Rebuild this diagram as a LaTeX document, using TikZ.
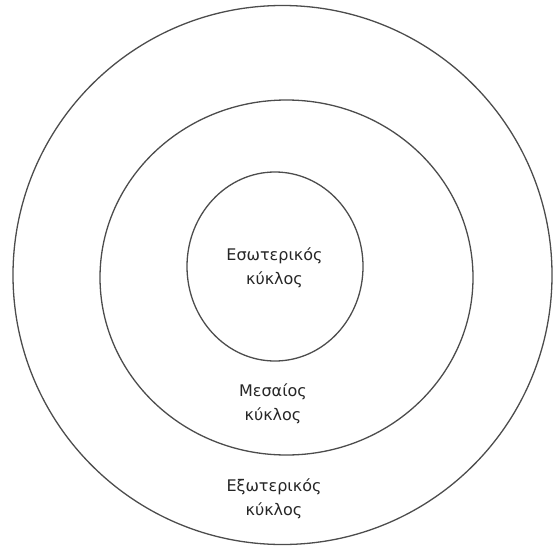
\documentclass[tikz,border=0pt]{standalone}
\usepackage{fontspec}
\setmainfont{DejaVu Sans}
\begin{document}
\begin{tikzpicture}[x=1pt, y=-1pt, thick]
                \tikzset{ring/.style={draw=black!70, line width=1.3pt},
                         ringtext/.style={align=center, text=black!85, font=\fontsize{16}{24}\selectfont}}
                \useasboundingbox (0,0) rectangle (553,551);

                \draw[ring] (282.5,275) circle [radius=269.5];
                \draw[ring] (286.5,277.5) ellipse [x radius=186.5, y radius=177.5];
                \draw[ring] (275,266.5) ellipse [x radius=88, y radius=94.5];

                \node (inner) [ringtext] at (274.5,268) {Εσωτερικός\\κύκλος};
                \node (middle) [ringtext] at (273,404) {Μεσαίος\\κύκλος};
                \node (outer) [ringtext] at (274,499) {Εξωτερικός\\κύκλος};
            \end{tikzpicture}
\end{document}
